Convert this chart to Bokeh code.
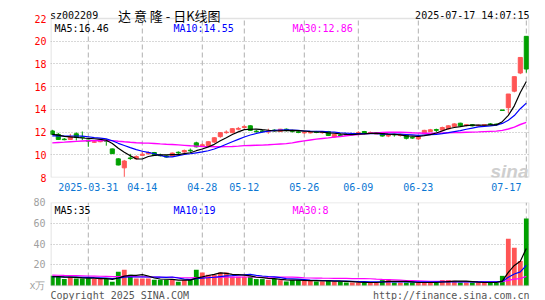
import numpy as np
import pandas as pd
from bokeh.plotting import figure
from bokeh.models import Range1d, FixedTicker, ColumnDataSource, BoxAnnotation
from bokeh.layouts import column
from bokeh.core.properties import value
from bokeh.embed import file_html
from bokeh.resources import INLINE

# ---------------- data ----------------
holidays = ["2025-04-04", "2025-05-01", "2025-05-02", "2025-05-05", "2025-06-02"]
dates = [d.strftime("%Y-%m-%d") for d in pd.bdate_range("2025-03-21", "2025-07-17")
         if d.strftime("%Y-%m-%d") not in holidays]

tick_dates = ["2025-03-31", "2025-04-14", "2025-04-28", "2025-05-12",
              "2025-05-26", "2025-06-09", "2025-06-23", "2025-07-17"]
tick_labels = ["2025-03-31", "04-14", "04-28", "05-12", "05-26", "06-09", "06-23", "07-17"]

open_ = [12.10, 11.80, 11.38, 11.35, 11.85, 11.57, 11.30, 11.12, 11.15, 11.28,
         10.52, 9.64, 8.85, 9.72, 9.65, 9.95, 10.10, 10.20, 9.97, 9.90,
         9.90, 10.22, 10.25, 10.40, 11.05, 10.80, 10.82, 11.12, 11.60, 11.95,
         11.95, 12.25, 12.40, 12.55, 12.08, 12.10, 12.02, 12.17, 12.06, 12.25,
         12.12, 12.02, 11.95, 11.95, 12.02, 11.97, 12.05, 11.57, 11.75, 11.80,
         11.80, 11.88, 12.05, 11.90, 11.85, 11.95, 11.65, 11.80, 11.70, 11.75,
         11.52, 11.40, 11.85, 12.05, 12.22, 12.18, 12.28, 12.48, 12.78, 12.58,
         12.65, 12.55, 12.60, 12.72, 12.70, 13.95, 14.15, 15.60, 17.20, 20.43]
high = [12.20, 11.93, 11.48, 11.84, 11.98, 12.05, 11.34, 11.25, 11.40, 11.35,
        10.55, 9.70, 9.55, 10.08, 9.95, 10.25, 10.30, 10.25, 10.10, 9.95,
        10.20, 10.30, 10.46, 10.55, 11.15, 11.00, 11.20, 11.55, 12.00, 12.15,
        12.35, 12.45, 12.60, 12.60, 12.20, 12.20, 12.30, 12.25, 12.28, 12.32,
        12.20, 12.12, 12.05, 12.05, 12.10, 12.05, 12.10, 11.85, 11.90, 11.92,
        11.90, 12.08, 12.10, 12.05, 11.95, 12.00, 11.80, 11.85, 11.85, 11.80,
        11.60, 11.65, 12.20, 12.28, 12.30, 12.48, 12.60, 12.78, 12.82, 12.70,
        12.70, 12.65, 12.70, 12.80, 12.75, 13.95, 15.35, 16.88, 18.57, 20.43]
low = [11.75, 11.30, 11.28, 11.30, 11.26, 11.30, 10.70, 11.05, 11.10, 10.80,
       10.08, 9.07, 8.06, 9.55, 9.60, 9.90, 10.00, 9.90, 9.85, 9.75,
       9.85, 10.05, 10.10, 10.20, 10.65, 10.70, 10.78, 11.05, 11.50, 11.85,
       11.90, 12.15, 12.33, 12.10, 11.95, 11.95, 11.85, 12.05, 12.00, 12.05,
       11.95, 11.90, 11.85, 11.88, 11.90, 11.85, 11.65, 11.52, 11.65, 11.68,
       11.75, 11.85, 11.80, 11.85, 11.82, 11.60, 11.55, 11.60, 11.60, 11.35,
       11.40, 11.30, 11.80, 12.00, 12.00, 12.10, 12.22, 12.45, 12.45, 12.50,
       12.50, 12.52, 12.55, 12.60, 12.60, 13.95, 13.65, 15.50, 17.10, 17.23]
close = [11.80, 11.35, 11.35, 11.60, 11.55, 11.55, 11.20, 11.15, 11.30, 11.20,
         10.10, 9.10, 9.45, 9.70, 9.85, 10.05, 10.20, 9.95, 9.95, 9.80,
         10.15, 10.20, 10.38, 10.37, 10.70, 10.88, 11.15, 11.50, 11.95, 12.00,
         12.30, 12.32, 12.48, 12.15, 12.05, 12.05, 12.08, 12.15, 12.25, 12.15,
         12.08, 12.00, 11.98, 11.98, 12.00, 12.00, 11.70, 11.80, 11.72, 11.78,
         11.85, 11.95, 11.87, 11.95, 11.88, 11.65, 11.75, 11.75, 11.75, 11.45,
         11.50, 11.60, 12.15, 12.20, 12.15, 12.40, 12.55, 12.72, 12.55, 12.65,
         12.55, 12.60, 12.65, 12.70, 12.68, 13.95, 15.35, 16.88, 18.57, 17.55]
volume = [9.3, 8.4, 6.2, 8.4, 6.8, 6.8, 7.0, 6.2, 6.2, 6.8,
          3.6, 13.2, 15.1, 10.3, 6.8, 6.8, 6.8, 5.5, 5.5, 5.5,
          6.2, 3.6, 5.2, 5.2, 15.1, 12.5, 10.3, 10.3, 12.5, 12.5,
          8.4, 8.4, 8.4, 8.4, 6.2, 6.2, 5.5, 6.5, 5.2, 3.9,
          5.2, 5.2, 4.5, 4.5, 3.9, 3.9, 5.2, 3.9, 3.9, 2.9,
          2.9, 2.9, 2.9, 2.9, 2.9, 5.2, 6.2, 2.9, 2.9, 2.9,
          2.9, 2.9, 2.9, 2.9, 2.9, 5.2, 5.2, 4.5, 2.9, 2.9,
          2.9, 2.9, 2.9, 2.9, 2.9, 9.3, 45.0, 36.5, 23.5, 64.5]

# sessions before the visible window (only used to warm up the moving averages)
pre_close = [10.30, 10.45, 10.60, 10.50, 10.65, 10.70, 10.85, 10.75, 10.90, 10.80,
             10.75, 10.85, 10.90, 11.00, 10.80, 10.70, 10.85, 10.95, 10.75, 10.85,
             11.30, 11.45, 11.60, 11.55, 11.70, 11.70, 11.90, 11.85, 11.75]
pre_volume = [11.5, 12.2, 10.4, 9.6, 11.8, 13.1, 10.2, 9.5, 12.4, 10.6,
              11.3, 9.8, 10.5, 12.0, 10.7, 9.6, 10.2, 11.0, 9.4, 9.7,
              8.6, 8.2, 8.5, 8.4, 8.6, 8.1, 8.5, 7.9, 8.3]

title_code = "sz002209"
title_name = "达 意 隆 - 日K线图"
stamp = "2025-07-17 14:07:15"
copyright_txt = "Copyright 2025 SINA.COM"
site_txt = "http://finance.sina.com.cn"

# ---------------- derived ----------------
n = len(close)
xs = list(range(n))
RED, GREEN = "#ff5555", "#00a000"
colors = [RED if c > o else GREEN for o, c in zip(open_, close)]
top = [max(o, c) for o, c in zip(open_, close)]
bot = [min(o, c) for o, c in zip(open_, close)]
bot = [b if t - b > 0.05 else t - 0.05 for t, b in zip(top, bot)]

def ma(pre, cur, w):
    s = pd.Series(pre + cur, dtype=float)
    return s.rolling(w).mean().to_numpy()[-len(cur):]

ma5, ma10, ma30 = ma(pre_close, close, 5), ma(pre_close, close, 10), ma(pre_close, close, 30)
vma5, vma10, vma30 = ma(pre_volume, volume, 5), ma(pre_volume, volume, 10), ma(pre_volume, volume, 30)

src = ColumnDataSource(dict(x=xs, o=open_, h=high, l=low, c=close, top=top, bot=bot,
                            color=colors, vol=volume))

tick_idx = [dates.index(d) for d in tick_dates]
overrides = {i: t for i, t in zip(tick_idx, tick_labels)}
overrides[tick_idx[-1]] = tick_labels[-1] + "\u00a0" * 4

# ---------------- layout constants (pixels) ----------------
W = 545
FL, FR = 50, 529            # frame left / right
P_TOP, P_BOT = 18, 177      # price box top / bottom (8..22)
V_TOP, V_BOT = 202, 285     # volume box top / bottom (0..80) in page px
P1_H = 196
X0, X1 = -0.3, 79.53
PXX = (FR - FL) / (X1 - X0)
PY1 = (P_BOT - P_TOP) / 14.0
PY2 = (V_BOT - V_TOP) / 80.0
Y1_TOP = 22 + P_TOP / PY1
Y2_BOT = -(300 - V_BOT) / PY2

def gx(px):
    return X0 + (px - FL) / PXX

def gy1(py):
    return 22 - (py - P_TOP) / PY1

def gy2(py):
    return 80 - (py - V_TOP) / PY2

FONT = "DejaVu Sans Mono"
GRID = "#b0b0b0"
BORDER = "#a0a0a0"

def style(p):
    p.background_fill_color = "white"
    p.border_fill_color = "white"
    p.outline_line_color = None
    for ax in p.xaxis + p.yaxis:
        ax.axis_line_color = None
        ax.major_tick_line_color = None
        ax.minor_tick_line_color = None
        ax.major_tick_out = 0
        ax.major_tick_in = 0
        ax.major_label_text_font = FONT
        ax.major_label_text_font_size = "10px"
    p.xgrid.visible = False
    p.ygrid.grid_line_color = GRID
    p.ygrid.grid_line_dash = "1 2"
    p.ygrid.grid_line_width = 1

def txt(p, px, y, text, color="black", align="left", size="10px", font=FONT, fstyle="normal"):
    p.text(x=[gx(px)], y=[y], text=[text], text_color=color, text_font=value(font),
           text_font_size=value(size), text_align=align, text_baseline="alphabetic",
           text_font_style=fstyle)

# ---------------- price panel ----------------
p1 = figure(width=W, height=P1_H, x_range=Range1d(X0, X1), y_range=Range1d(8, Y1_TOP),
            output_backend="svg", toolbar_location=None, title=None,
            min_border_left=FL, min_border_right=W - FR, min_border_top=0,
            min_border_bottom=P1_H - P_BOT)
style(p1)
p1.yaxis.ticker = FixedTicker(ticks=[8, 10, 12, 14, 16, 18, 20, 22])
p1.yaxis.bounds = (8, 22)
p1.yaxis.major_label_text_color = "#ff0000"
p1.yaxis.major_label_standoff = 4
p1.xaxis.ticker = FixedTicker(ticks=tick_idx)
p1.xaxis.major_label_overrides = overrides
p1.xaxis.major_label_text_color = "#0b77d3"
p1.xaxis.major_label_standoff = 4
p1.ygrid.ticker = FixedTicker(ticks=[10, 12, 14, 16, 18, 20])
p1.segment(x0=tick_idx, y0=[8] * len(tick_idx), x1=tick_idx, y1=[22] * len(tick_idx),
           line_color=GRID, line_dash="5 3", line_width=1)

# faint sina watermark
txt(p1, 528, gy1(171), "sina", color="#cfcfcf", align="right", size="19px",
    font="Liberation Sans", fstyle="bold italic")

p1.segment(x0="x", y0="l", x1="x", y1="h", line_color="color", line_width=1, source=src)
p1.vbar(x="x", width=0.68, top="top", bottom="bot", fill_color="color",
        line_color="color", line_width=1, source=src)
p1.line(xs, ma30, line_color="#ff00ff", line_width=1.4)
p1.line(xs, ma10, line_color="#0000ff", line_width=1.2)
p1.line(xs, ma5, line_color="black", line_width=1.2)

p1.add_layout(BoxAnnotation(left=gx(FL + 0.5), right=gx(FR - 0.5), bottom=8, top=22,
                            fill_color=None, line_color=BORDER, line_width=1.3))

txt(p1, 49.5, gy1(14.6), title_code)
txt(p1, 117.5, gy1(15.2), title_name, size="13px", font="Noto Sans CJK SC")
txt(p1, 529, gy1(15.2), stamp, align="right")
txt(p1, 54, gy1(28.4), f"MA5:{ma5[-1]:.2f}")
txt(p1, 173, gy1(28.4), f"MA10:{ma10[-1]:.2f}", color="#0000ff")
txt(p1, 292, gy1(28.4), f"MA30:{ma30[-1]:.2f}", color="#ff00ff")

# ---------------- volume panel ----------------
P2_H = 300 - P1_H
p2 = figure(width=W, height=P2_H, x_range=p1.x_range, y_range=Range1d(Y2_BOT, 80),
            output_backend="svg", toolbar_location=None, title=None,
            min_border_left=FL, min_border_right=W - FR, min_border_top=V_TOP - P1_H,
            min_border_bottom=0)
style(p2)
p2.xaxis.visible = False
p2.yaxis.ticker = FixedTicker(ticks=[0, 20, 40, 60, 80])
p2.yaxis.bounds = (0, 80)
p2.yaxis.major_label_overrides = {0: "x万"}
p2.yaxis.major_label_text_color = "#a0a0a0"
p2.yaxis.major_label_standoff = 5
p2.ygrid.ticker = FixedTicker(ticks=[20, 40, 60])
p2.segment(x0=tick_idx, y0=[0] * len(tick_idx), x1=tick_idx, y1=[80] * len(tick_idx),
           line_color=GRID, line_dash="5 3", line_width=1)

p2.vbar(x="x", width=0.8, top="vol", bottom=0, fill_color="color", line_color=None, source=src)
p2.line(xs, vma30, line_color="#ff00ff", line_width=1.2)
p2.line(xs, vma10, line_color="#0000ff", line_width=1.2)
p2.line(xs, vma5, line_color="black", line_width=1.2)

p2.add_layout(BoxAnnotation(left=gx(FL + 0.5), right=gx(FR - 0.5), bottom=0, top=80,
                            fill_color=None, line_color=BORDER, line_width=1.3))

txt(p2, 54, gy2(210.3), f"MA5:{int(vma5[-1])}")
txt(p2, 173, gy2(210.3), f"MA10:{int(vma10[-1])}", color="#0000ff")
txt(p2, 292, gy2(210.3), f"MA30:{int(vma30[-1])}", color="#ff00ff")
txt(p2, 50, gy2(295), copyright_txt, color="#555555")
txt(p2, 529, gy2(295), site_txt, color="#555555", align="right")

layout = column(p1, p2)
open("out.html", "w").write(file_html(layout, INLINE))
